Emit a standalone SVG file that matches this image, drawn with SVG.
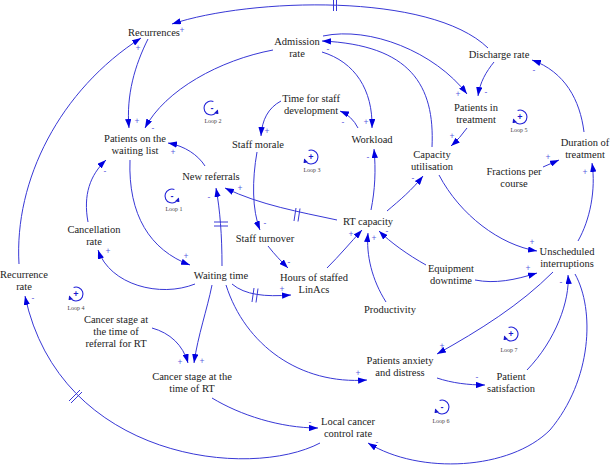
<svg xmlns="http://www.w3.org/2000/svg" width="612" height="469" viewBox="0 0 612 469">
<style>
.n text { font-family: "Liberation Serif", "Times New Roman", "DejaVu Serif", serif; font-size: 10.5px; fill: #222; text-anchor: middle; }
.c path.l { fill: none; stroke: #3838d6; stroke-width: 1; marker-end: url(#ah); }
.c path.d { fill: none; stroke: #3838d6; stroke-width: 1; }
.p { font-family: "Liberation Sans", Arial, sans-serif; font-size: 8.5px; fill: #5a5ae0; text-anchor: middle; dominant-baseline: central; }
.lp path.a { fill: none; stroke: #2020d8; stroke-width: 1.1; marker-end: url(#lah); }
.lp .s { font-family: "Liberation Sans", Arial, sans-serif; font-size: 9px; font-weight: bold; fill: #1a1acc; text-anchor: middle; dominant-baseline: central; }
.lp .t { font-family: "Liberation Serif", "Times New Roman", serif; font-size: 6px; fill: #444; text-anchor: middle; }
</style>
<defs>
<marker id="ah" viewBox="0 0 10 7" refX="10" refY="3.5" markerWidth="9" markerHeight="6.3" markerUnits="userSpaceOnUse" orient="auto">
<path d="M0,0 L10,3.5 L0,7 z" fill="#0000e0"/>
</marker>
<marker id="lah" viewBox="0 0 10 10" refX="8" refY="5" markerWidth="4.5" markerHeight="4.5" markerUnits="userSpaceOnUse" orient="auto">
<path d="M0,0 L10,5 L0,10 z" fill="#1a1acc"/>
</marker>
</defs>

<g id="connectors" class="c">
<path class="l" d="M488,48 C430,-8 250,-2 172,24"/>
<path class="d" d="M333.5,-1 L333.5,11 M336.5,-1 L336.5,11"/>
<path class="l" d="M148,39 C135,65 126,95 129,128"/>
<path class="l" d="M19,264 C14,180 60,90 141,38"/>
<path class="l" d="M273,50 C220,60 165,90 145,128"/>
<path class="l" d="M322,52 C355,62 373,90 372,128"/>
<path class="l" d="M432,147 C435,85 410,45 322,41"/>
<path class="l" d="M323,36 C370,26 435,52 467,94"/>
<path class="l" d="M494,62 C486,72 480,82 478,96"/>
<path class="l" d="M584,132 C580,100 565,72 532,60"/>
<path class="l" d="M467,128 Q460,138 451,146"/>
<path class="l" d="M543,167 L559,160"/>
<path class="l" d="M578,241 C590,220 596,190 592,163"/>
<path class="l" d="M439,175 C460,215 500,245 537,251"/>
<path class="l" d="M387,211 C400,200 412,190 423,176"/>
<path class="l" d="M371,210 C375,190 376,170 374,149"/>
<path class="l" d="M358,128 Q352,116 340,111"/>
<path class="l" d="M281,101 C268,108 262,120 261,136"/>
<path class="l" d="M257,152 C252,180 252,210 260,230"/>
<path class="l" d="M268,246 C275,255 281,261 288,268"/>
<path class="l" d="M327,268 C340,255 350,243 362,230"/>
<path class="l" d="M386,302 C372,280 366,255 368,233"/>
<path class="l" d="M426,265 C408,255 390,242 379,231"/>
<path class="l" d="M475,280 C495,284 515,280 537,273"/>
<path class="l" d="M337,220 C300,212 260,205 225,188"/>
<path class="d" d="M296,208 L294,221 M300,208.5 L298,221.5"/>
<path class="l" d="M205,166 C198,155 185,146 168,143"/>
<path class="l" d="M222,266 C222,235 220,210 216,188"/>
<path class="d" d="M214,222 L228,222 M214,226 L228,226"/>
<path class="l" d="M130,160 C128,215 150,250 190,265"/>
<path class="l" d="M88,222 C83,195 90,175 106,160"/>
<path class="l" d="M195,284 C160,298 110,285 98,250"/>
<path class="l" d="M232,284 C245,295 265,297 291,295"/>
<path class="d" d="M254,288 L252,302 M258,288.5 L256,302.5"/>
<path class="l" d="M212,285 C207,310 198,335 194,363"/>
<path class="l" d="M152,328 C170,333 183,345 188,363"/>
<path class="l" d="M226,285 C245,345 300,385 367,380"/>
<path class="l" d="M212,398 C240,415 280,428 318,428"/>
<path class="l" d="M320,443 C250,480 60,460 25,296"/>
<path class="d" d="M69,401 L80,390 M71,403 L82,392"/>
<path class="l" d="M553,272 C520,305 480,330 437,354"/>
<path class="l" d="M437,378 C452,383 468,385 485,385"/>
<path class="l" d="M527,370 C556,340 570,300 568,275"/>
<path class="l" d="M575,274 C595,310 592,380 550,430 C510,470 420,475 368,443"/>

<text class="p" x="182" y="30">+</text>
<text class="p" x="138" y="48">+</text>
<text class="p" x="137" y="121">+</text>
<text class="p" x="153" y="128">-</text>
<text class="p" x="173" y="152">+</text>
<text class="p" x="105" y="171">-</text>
<text class="p" x="328" y="49">-</text>
<text class="p" x="366" y="122">+</text>
<text class="p" x="343" y="122">-</text>
<text class="p" x="267" y="131">+</text>
<text class="p" x="458" y="94">+</text>
<text class="p" x="486" y="92">-</text>
<text class="p" x="534" y="70">-</text>
<text class="p" x="452" y="136">+</text>
<text class="p" x="548" y="157">+</text>
<text class="p" x="585" y="172">+</text>
<text class="p" x="368" y="157">-</text>
<text class="p" x="413" y="178">-</text>
<text class="p" x="532" y="242">+</text>
<text class="p" x="240" y="188">+</text>
<text class="p" x="209" y="197">-</text>
<text class="p" x="265" y="223">-</text>
<text class="p" x="289" y="262">-</text>
<text class="p" x="186" y="256">+</text>
<text class="p" x="108" y="251">+</text>
<text class="p" x="282" y="289">+</text>
<text class="p" x="351" y="234">+</text>
<text class="p" x="374" y="238">+</text>
<text class="p" x="387" y="231">-</text>
<text class="p" x="528" y="268">+</text>
<text class="p" x="33" y="298">-</text>
<text class="p" x="180" y="362">+</text>
<text class="p" x="202" y="361">+</text>
<text class="p" x="358" y="373">+</text>
<text class="p" x="442" y="346">+</text>
<text class="p" x="477" y="377">-</text>
<text class="p" x="561" y="282">-</text>
<text class="p" x="310" y="422">-</text>
<text class="p" x="377" y="442">-</text>
</g>

<g id="recurrences" class="n"><text x="154" y="36">Recurrences</text></g>
<g id="admission-rate" class="n"><text x="297" y="45">Admission</text><text x="297" y="57">rate</text></g>
<g id="discharge-rate" class="n"><text x="499" y="58">Discharge rate</text></g>
<g id="patients-in-treatment" class="n"><text x="476" y="111">Patients in</text><text x="476" y="123">treatment</text></g>
<g id="time-for-staff-development" class="n"><text x="311" y="102">Time for staff</text><text x="311" y="114">development</text></g>
<g id="workload" class="n"><text x="372" y="143">Workload</text></g>
<g id="staff-morale" class="n"><text x="258" y="148">Staff morale</text></g>
<g id="patients-on-waiting-list" class="n"><text x="135" y="142">Patients on the</text><text x="135" y="154">waiting list</text></g>
<g id="capacity-utilisation" class="n"><text x="432" y="158">Capacity</text><text x="432" y="170">utilisation</text></g>
<g id="duration-of-treatment" class="n"><text x="585" y="146">Duration of</text><text x="585" y="158">treatment</text></g>
<g id="fractions-per-course" class="n"><text x="514" y="175">Fractions per</text><text x="514" y="187">course</text></g>
<g id="new-referrals" class="n"><text x="211" y="180">New referrals</text></g>
<g id="rt-capacity" class="n"><text x="368" y="225">RT capacity</text></g>
<g id="cancellation-rate" class="n"><text x="94" y="233">Cancellation</text><text x="94" y="245">rate</text></g>
<g id="staff-turnover" class="n"><text x="265" y="242">Staff turnover</text></g>
<g id="unscheduled-interruptions" class="n"><text x="567" y="255">Unscheduled</text><text x="567" y="267">interruptions</text></g>
<g id="equipment-downtime" class="n"><text x="451" y="272">Equipment</text><text x="451" y="284">downtime</text></g>
<g id="recurrence-rate" class="n"><text x="24" y="278">Recurrence</text><text x="24" y="290">rate</text></g>
<g id="waiting-time" class="n"><text x="221" y="279">Waiting time</text></g>
<g id="hours-of-staffed-linacs" class="n"><text x="314" y="281">Hours of staffed</text><text x="314" y="293">LinAcs</text></g>
<g id="productivity" class="n"><text x="390" y="313">Productivity</text></g>
<g id="cancer-stage-referral" class="n"><text x="116" y="323">Cancer stage at</text><text x="116" y="335">the time of</text><text x="116" y="347">referral for RT</text></g>
<g id="cancer-stage-rt" class="n"><text x="192" y="380">Cancer stage at the</text><text x="192" y="392">time of RT</text></g>
<g id="patients-anxiety" class="n"><text x="400" y="364">Patients anxiety</text><text x="400" y="376">and distress</text></g>
<g id="patient-satisfaction" class="n"><text x="511" y="380">Patient</text><text x="511" y="392">satisfaction</text></g>
<g id="local-cancer-control-rate" class="n"><text x="348" y="425">Local cancer</text><text x="348" y="437">control rate</text></g>

<g id="loop1" class="lp"><path class="a" transform="translate(172,196)" d="M2.39,-6.58 A7 7 0 1 0 6.58,2.39"/><text class="s" x="172" y="196">-</text><text class="t" x="174" y="211">Loop 1</text></g>
<g id="loop2" class="lp"><path class="a" transform="translate(211,108)" d="M2.39,-6.58 A7 7 0 1 0 6.58,2.39"/><text class="s" x="212" y="108">-</text><text class="t" x="213" y="123">Loop 2</text></g>
<g id="loop3" class="lp"><path class="a" transform="translate(311,157)" d="M-2.39,-6.58 A7 7 0 1 1 -6.58,2.39"/><text class="s" x="311" y="157">+</text><text class="t" x="312" y="172">Loop 3</text></g>
<g id="loop4" class="lp"><path class="a" transform="translate(76,294)" d="M-2.39,-6.58 A7 7 0 1 1 -6.58,2.39"/><text class="s" x="76" y="294">+</text><text class="t" x="76" y="310">Loop 4</text></g>
<g id="loop5" class="lp"><path class="a" transform="translate(520,117)" d="M-2.39,-6.58 A7 7 0 1 1 -6.58,2.39"/><text class="s" x="520" y="117">+</text><text class="t" x="519" y="132">Loop 5</text></g>
<g id="loop6" class="lp"><path class="a" transform="translate(442,407)" d="M-2.39,-6.58 A7 7 0 1 1 -6.58,2.39"/><text class="s" x="442" y="407">-</text><text class="t" x="441" y="423">Loop 6</text></g>
<g id="loop7" class="lp"><path class="a" transform="translate(511,334)" d="M-2.39,-6.58 A7 7 0 1 1 -6.58,2.39"/><text class="s" x="511" y="334">+</text><text class="t" x="509" y="352">Loop 7</text></g>
</svg>
